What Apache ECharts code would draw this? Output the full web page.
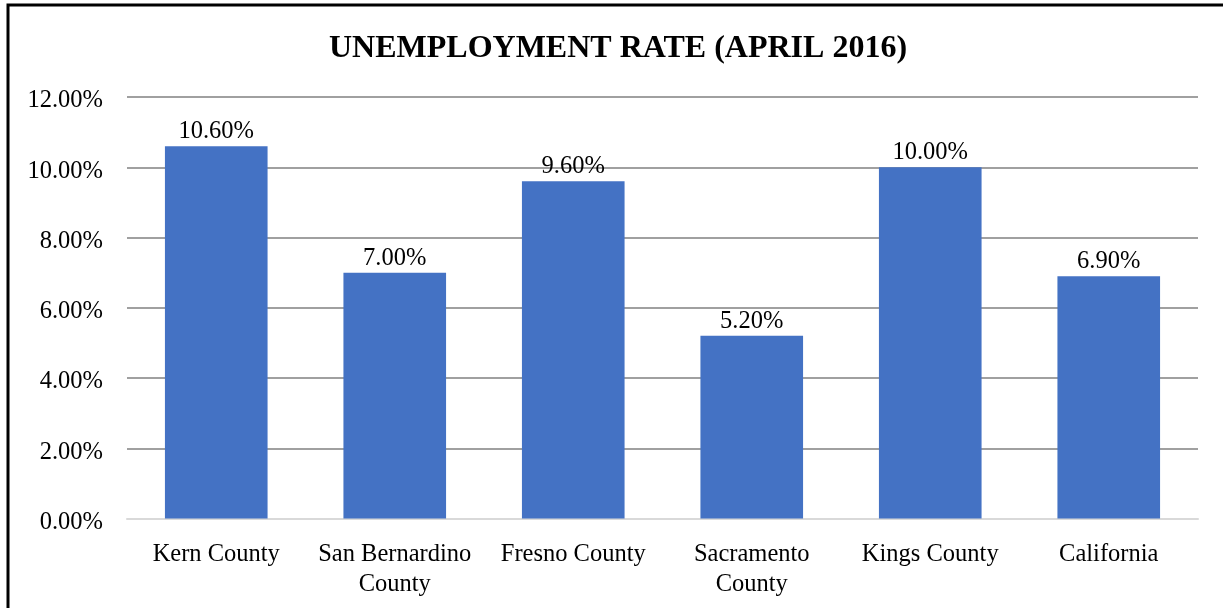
<!DOCTYPE html>
<html>
<head>
<meta charset="utf-8">
<script src="https://cdn.jsdelivr.net/npm/echarts@6/dist/echarts.min.js"></script>
<style>
  html, body { margin: 0; padding: 0; background: #fff; }
  #chart { width: 1223px; height: 608px; }
</style>
</head>
<body>
<div id="chart"></div>
<script>
// Unemployment rate by area, April 2016 (percent)
const categories = ['Kern County', 'San Bernardino\nCounty', 'Fresno County', 'Sacramento\nCounty', 'Kings County', 'California'];
const rates = [10.6, 7.0, 9.6, 5.2, 10.0, 6.9];
const yTicks = { min: 0, max: 12, interval: 2 };

const serif = '"Liberation Serif", "Times New Roman", serif';
const chart = echarts.init(document.getElementById('chart'));

chart.setOption({
  backgroundColor: '#ffffff',
  animation: false,
  title: {
    text: 'UNEMPLOYMENT RATE (APRIL 2016)',
    left: 324,
    top: 28,
    textStyle: { fontFamily: serif, fontWeight: 'bold', fontSize: 32, color: '#000' }
  },
  graphic: [{
    type: 'rect',
    shape: { x: 8, y: 5, width: 1400, height: 800 },
    style: { fill: 'none', stroke: '#000', lineWidth: 3 },
    silent: true
  }],
  grid: { left: 127, right: 25, top: 97, bottom: 89.5 },
  xAxis: {
    type: 'category',
    data: categories,
    axisLine: { show: true, lineStyle: { color: '#d9d9d9', width: 2 } },
    axisTick: { show: false },
    axisLabel: {
      interval: 0,
      margin: 21,
      fontFamily: serif,
      fontSize: 24.5,
      lineHeight: 30,
      color: '#000'
    }
  },
  yAxis: {
    type: 'value',
    min: yTicks.min,
    max: yTicks.max,
    interval: yTicks.interval,
    axisLine: { show: false },
    axisTick: { show: false },
    splitLine: { lineStyle: { color: '#a0a0a0', width: 2 } },
    axisLabel: {
      margin: 24,
      verticalAlign: 'top',
      lineHeight: 8,
      fontFamily: serif,
      fontSize: 24.5,
      color: '#000',
      formatter: v => v.toFixed(2) + '%'
    }
  },
  series: [{
    type: 'bar',
    data: rates,
    barWidth: '57.5%',
    itemStyle: { color: '#4472C4' },
    label: {
      show: true,
      position: 'top',
      distance: 2,
      fontFamily: serif,
      fontSize: 24.5,
      color: '#000',
      formatter: p => p.value.toFixed(2) + '%'
    }
  }]
});
</script>
</body>
</html>
